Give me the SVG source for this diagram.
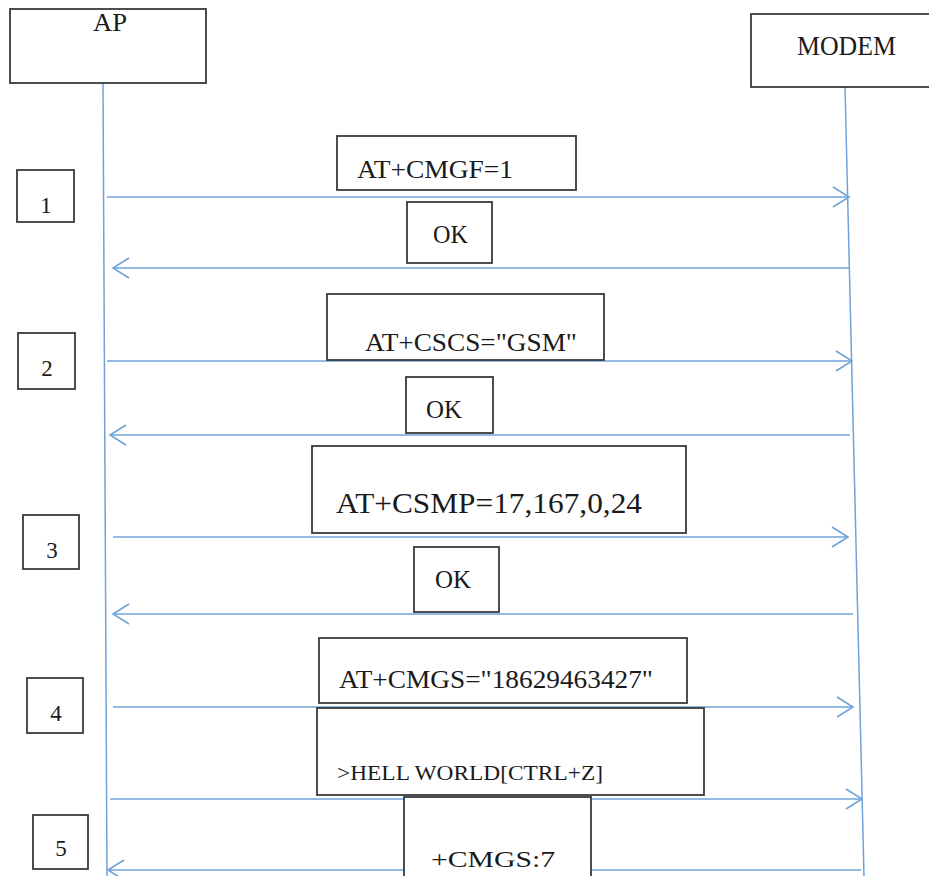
<svg xmlns="http://www.w3.org/2000/svg" width="929" height="876" viewBox="0 0 929 876">
<style>
.box{fill:#fff;stroke:#3a3a3a;stroke-width:1.8}
.life{fill:none;stroke:#6fa3d8;stroke-width:1.5}
.msg{fill:none;stroke:#6fa3d8;stroke-width:1.6;marker-end:url(#chev)}
text{font-family:"Liberation Serif","Times New Roman",serif;fill:#1a1a1a}
.num{font-size:23px;text-anchor:middle}
</style>
<defs>
<marker id="chev" markerUnits="userSpaceOnUse" markerWidth="24" markerHeight="24" viewBox="-20 -12 24 24" refX="0" refY="0" orient="auto">
<path d="M-16,-10 L0,0 L-16,10" fill="none" stroke="#6fa3d8" stroke-width="1.6"/>
</marker>
</defs>
<rect width="929" height="876" fill="#fff"/>
<g id="connectors">
<line class="life" x1="103" y1="83" x2="107" y2="876"/>
<line class="life" x1="845" y1="87" x2="864" y2="876"/>
<line class="msg" x1="107" y1="197" x2="849" y2="197"/>
<line class="msg" x1="849" y1="268" x2="113" y2="268"/>
<line class="msg" x1="107" y1="361" x2="852" y2="361"/>
<line class="msg" x1="850" y1="435" x2="110" y2="435"/>
<line class="msg" x1="113" y1="537" x2="848" y2="537"/>
<line class="msg" x1="853" y1="614" x2="113" y2="614"/>
<line class="msg" x1="113" y1="707" x2="853" y2="707"/>
<line class="msg" x1="110" y1="799" x2="862" y2="799"/>
<line class="msg" x1="861" y1="870" x2="108" y2="870"/>
</g>
<g id="ap"><rect class="box" x="10" y="9" width="196" height="74"/><text x="93" y="31" font-size="26" textLength="34" lengthAdjust="spacingAndGlyphs">AP</text></g>
<g id="modem"><rect class="box" x="751" y="14" width="200" height="73"/><text x="797" y="55" font-size="28" textLength="99" lengthAdjust="spacingAndGlyphs">MODEM</text></g>
<g id="step1"><rect class="box" x="17" y="170" width="57" height="52"/><text class="num" x="46" y="213">1</text></g>
<g id="step2"><rect class="box" x="18" y="333" width="57" height="56"/><text class="num" x="47" y="376">2</text></g>
<g id="step3"><rect class="box" x="23" y="515" width="56" height="54"/><text class="num" x="52" y="558">3</text></g>
<g id="step4"><rect class="box" x="27" y="678" width="56" height="55"/><text class="num" x="56" y="721">4</text></g>
<g id="step5"><rect class="box" x="33" y="815" width="55" height="54"/><text class="num" x="61" y="856">5</text></g>
<g id="msg1"><rect class="box" x="337" y="136" width="239" height="54"/><text x="357" y="178" font-size="26" textLength="156" lengthAdjust="spacingAndGlyphs">AT+CMGF=1</text></g>
<g id="ok1"><rect class="box" x="407" y="202" width="85" height="61"/><text x="433" y="243" font-size="26" textLength="35" lengthAdjust="spacingAndGlyphs">OK</text></g>
<g id="msg2"><rect class="box" x="327" y="294" width="277" height="66"/><text x="365" y="351" font-size="26" textLength="212" lengthAdjust="spacingAndGlyphs">AT+CSCS="GSM"</text></g>
<g id="ok2"><rect class="box" x="406" y="377" width="87" height="56"/><text x="426" y="418" font-size="26" textLength="36" lengthAdjust="spacingAndGlyphs">OK</text></g>
<g id="msg3"><rect class="box" x="312" y="446" width="374" height="87"/><text x="336" y="513" font-size="29" textLength="306" lengthAdjust="spacingAndGlyphs">AT+CSMP=17,167,0,24</text></g>
<g id="ok3"><rect class="box" x="414" y="547" width="85" height="65"/><text x="435" y="588" font-size="25" textLength="36" lengthAdjust="spacingAndGlyphs">OK</text></g>
<g id="msg4"><rect class="box" x="319" y="638" width="368" height="65"/><text x="339" y="688" font-size="26" textLength="314" lengthAdjust="spacingAndGlyphs">AT+CMGS="18629463427"</text></g>
<g id="msg5"><rect class="box" x="317" y="708" width="387" height="87"/><text x="337" y="780" font-size="22" textLength="266" lengthAdjust="spacingAndGlyphs">&gt;HELL WORLD[CTRL+Z]</text></g>
<g id="msg6"><rect class="box" x="404" y="797" width="187" height="90"/><text x="431" y="867" font-size="24" textLength="124" lengthAdjust="spacingAndGlyphs">+CMGS:7</text></g>
</svg>
